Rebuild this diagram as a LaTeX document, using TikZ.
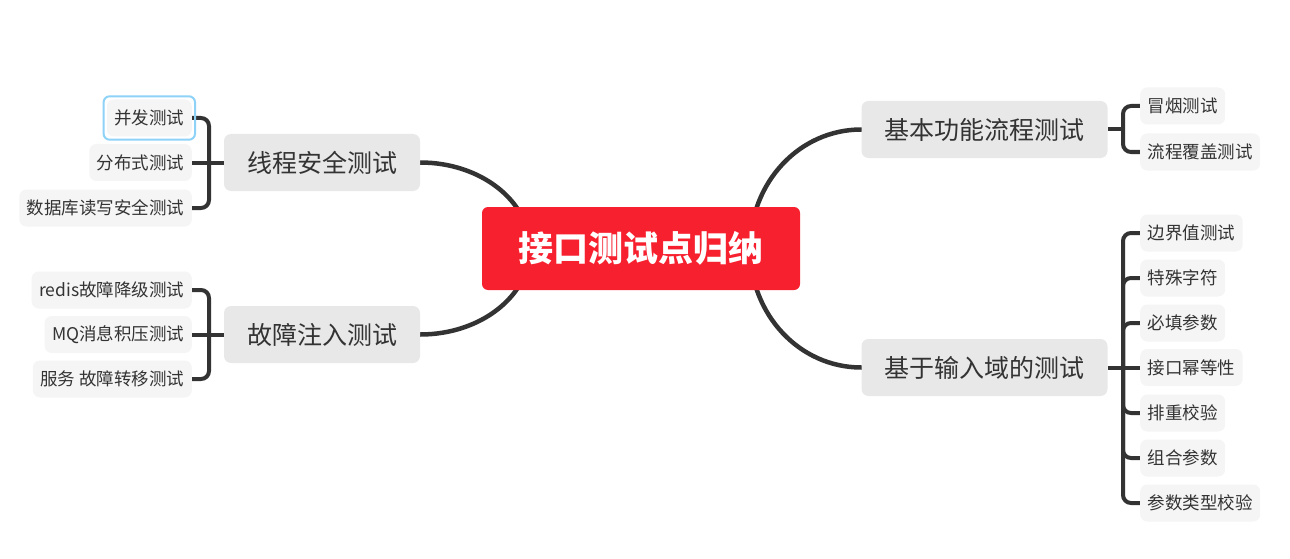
\documentclass[tikz,border=0pt]{standalone}
\usepackage{fontspec}
\setmainfont{Noto Sans CJK SC}
\usetikzlibrary{backgrounds,calc}
\definecolor{cRed}{HTML}{F7202F}
\definecolor{cInk}{HTML}{333333}
\definecolor{cTopic}{HTML}{E8E8E8}
\definecolor{cLeaf}{HTML}{F5F5F5}
\definecolor{cSel}{HTML}{8ED3F7}
\definecolor{cLine}{HTML}{333333}
\tikzset{
  rootbox/.style={fill=cRed,rounded corners=6pt,text=white,font=\fontsize{35}{40}\selectfont\bfseries,minimum width=318pt,minimum height=83pt,inner sep=0pt},
  topic/.style={fill=cTopic,rounded corners=7pt,text=cInk,font=\fontsize{25}{30}\selectfont,minimum height=57pt,inner xsep=23pt,inner ysep=0pt},
  leaf/.style={fill=cLeaf,rounded corners=7pt,text=cInk,font=\fontsize{17.5}{21}\selectfont,minimum height=37pt,inner xsep=7.5pt,inner ysep=0pt},
  conn/.style={draw=cLine,line width=4.5pt,line cap=round},
  brk/.style={draw=cLine,line width=4pt,rounded corners=8pt},
  selbox/.style={draw=cSel,line width=2pt,rounded corners=6pt},
}

\begin{document}
\begin{tikzpicture}[x=1pt,y=-1pt]
  \useasboundingbox (0,0) rectangle (1290,559);
  % central topic
  \node[rootbox] (root) at (641,248.5) {接口测试点归纳};
  \coordinate (rootL) at ($(root.center)+(-111,0)$);
  \coordinate (rootR) at ($(root.center)+(109,0)$);
  % main topics
  \node[topic] (thread) at (322,162.5) {线程安全测试};
  \node[topic] (fault) at (322,334.5) {故障注入测试};
  \node[topic] (basic) at (984.5,129.5) {基本功能流程测试};
  \node[topic] (input) at (984.5,367.5) {基于输入域的测试};
  % left leaves
  \node[leaf,anchor=east] (ta) at (192,118) {并发测试};
  \node[leaf,anchor=east] (tb) at (192,162.5) {分布式测试};
  \node[leaf,anchor=east] (tc) at (192,208) {数据库读写安全测试};
  \node[leaf,anchor=east] (fa) at (192,290) {redis故障降级测试};
  \node[leaf,anchor=east] (fb) at (192,334.5) {MQ消息积压测试};
  \node[leaf,anchor=east] (fc) at (192,379) {服务 故障转移测试};
  % right leaves
  \node[leaf,anchor=west] (ba) at (1140,106) {冒烟测试};
  \node[leaf,anchor=west] (bb) at (1140,152) {流程覆盖测试};
  \node[leaf,anchor=west] (ia) at (1140,233) {边界值测试};
  \node[leaf,anchor=west] (ib) at (1140,278) {特殊字符};
  \node[leaf,anchor=west] (ic) at (1140,323) {必填参数};
  \node[leaf,anchor=west] (id) at (1140,367.5) {接口幂等性};
  \node[leaf,anchor=west] (ie) at (1140,413) {排重校验};
  \node[leaf,anchor=west] (if) at (1140,458) {组合参数};
  \node[leaf,anchor=west] (ig) at (1140,503) {参数类型校验};
  % selection frame
  \draw[selbox] ($(ta.south west)+(-3,3)$) rectangle ($(ta.north east)+(3,-3)$);
  % junctions of the brackets
  \coordinate (jt) at (209,162.5);
  \coordinate (jf) at (209,334.5);
  \coordinate (jb) at (1123,129.5);
  \coordinate (ji) at (1123,367.5);
  \begin{pgfonlayer}{background}
    % branches from the centre
    \draw[conn] (thread.east) .. controls +(61,0) and +(0,-47) .. (rootL);
    \draw[conn] (fault.east) .. controls +(61,0) and +(0,47) .. (rootL);
    \draw[conn] (basic.west) .. controls +(-62,0) and +(0,-66) .. (rootR);
    \draw[conn] (input.west) .. controls +(-62,0) and +(0,66) .. (rootR);
    % brackets
    \draw[brk] (ta.east) -| (jt) |- (tc.east);
    \draw[brk] (tb.east) -- (thread.west);
    \draw[brk] (fa.east) -| (jf) |- (fc.east);
    \draw[brk] (fb.east) -- (fault.west);
    \draw[brk] (ba.west) -| (jb) |- (bb.west);
    \draw[brk] (basic.east) -- (jb);
    \draw[brk] (ia.west) -| (ji) |- (ig.west);
    \draw[brk] (ji) |- (ib.west);
    \draw[brk] (ji) |- (ic.west);
    \draw[brk] (ji) |- (ie.west);
    \draw[brk] (ji) |- (if.west);
    \draw[brk] (input.east) -- (id.west);
  \end{pgfonlayer}
\end{tikzpicture}
\end{document}
